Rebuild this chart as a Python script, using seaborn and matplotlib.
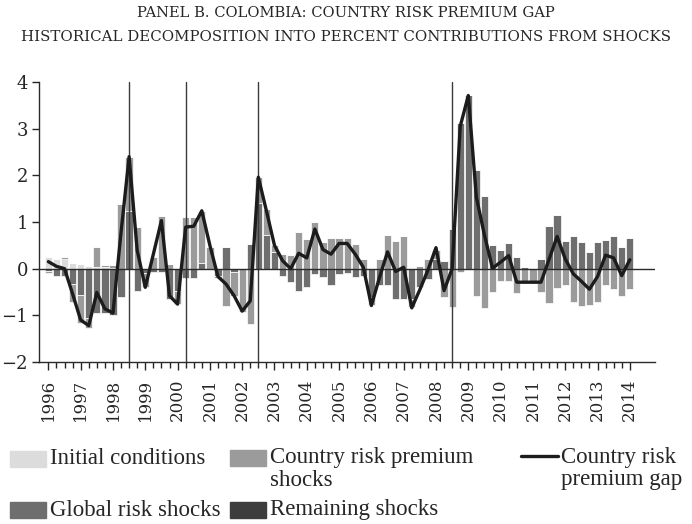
import matplotlib
matplotlib.use("Agg")
import matplotlib.pyplot as plt
import seaborn as sns
import numpy as np
import pandas as pd
from matplotlib.patches import Rectangle
from matplotlib.lines import Line2D

#----------------------------------------------------
# data (quarterly, 1996Q1 .. 2014Q1)
#----------------------------------------------------

first_quarter = "1996Q1"
last_quarter = "2014Q1"

initial_conditions = [
    0.25, 0.21, 0.20, 0.13, 0.09, 0.06, 0.04, 0.03, 0.02, 0.00,
    0.00, 0.00, 0.00, 0.00, 0.00, 0.00, 0.00, 0.00, 0.00, 0.00,
    0.00, 0.00, 0.00, 0.00, 0.00, 0.00, 0.00, 0.00, 0.00, 0.00,
    0.00, 0.00, 0.00, 0.00, 0.00, 0.00, 0.00, 0.00, 0.00, 0.00,
    0.00, 0.00, 0.00, 0.00, 0.00, 0.00, 0.00, 0.00, 0.00, 0.00,
    0.00, 0.00, 0.00, 0.00, 0.00, 0.00, 0.00, 0.00, 0.00, 0.00,
    0.00, 0.00, 0.00, 0.00, 0.00, 0.00, 0.00, 0.00, 0.00, 0.00,
    0.00, 0.00, 0.00,
]

global_risk = [
    -0.05, -0.15, -0.15, -0.33, -0.57, -1.05, -0.94, -0.94, -0.99, -0.61,
    1.24, -0.47, -0.10, -0.08, -0.08, -0.65, -0.47, -0.20, -0.19, 0.13,
    0.00, -0.15, 0.46, -0.08, 0.00, 0.53, 1.40, 0.72, 0.35, -0.15,
    -0.29, -0.47, -0.40, -0.11, -0.17, -0.34, -0.11, -0.09, -0.17, -0.15,
    -0.60, -0.34, -0.34, -0.64, -0.66, -0.65, -0.40, -0.22, 0.20, 0.17,
    0.84, 3.12, 3.72, 2.12, 1.56, 0.51, 0.39, 0.55, 0.26, 0.04,
    0.00, 0.21, 0.92, 1.14, 0.60, 0.71, 0.58, 0.35, 0.58, 0.62,
    0.69, 0.46, 0.66,
]

country_risk = [
    -0.05, 0.00, 0.04, -0.38, -0.60, -0.22, 0.43, 0.05, 0.06, 1.39,
    1.16, 0.90, -0.30, 0.24, 1.12, 0.10, -0.29, 1.11, 1.11, 1.11,
    0.47, -0.04, -0.81, -0.50, -0.92, -1.19, 0.56, 0.55, 0.15, 0.31,
    0.29, 0.79, 0.64, 0.99, 0.58, 0.66, 0.66, 0.66, 0.53, 0.21,
    -0.17, 0.21, 0.72, 0.60, 0.71, -0.18, 0.06, 0.21, 0.21, -0.61,
    -0.83, -0.08, 0.00, -0.59, -0.85, -0.49, -0.26, -0.27, -0.53, -0.29,
    -0.29, -0.49, -0.74, -0.42, -0.36, -0.72, -0.81, -0.77, -0.72, -0.34,
    -0.44, -0.59, -0.44,
]

remaining = [
    0.00, 0.00, 0.00, 0.00, 0.00, 0.00, 0.00, 0.00, 0.00, 0.00,
    0.00, 0.00, 0.00, 0.00, 0.00, 0.00, 0.00, 0.00, 0.00, 0.00,
    0.00, 0.00, 0.00, 0.00, 0.00, 0.00, 0.00, 0.00, 0.00, 0.00,
    0.00, 0.00, 0.00, 0.00, 0.00, 0.00, 0.00, 0.00, 0.00, 0.00,
    0.00, 0.00, 0.00, 0.00, 0.00, 0.00, 0.00, 0.00, 0.00, 0.00,
    0.00, 0.00, 0.00, 0.00, 0.00, 0.00, 0.00, 0.00, 0.00, 0.00,
    0.00, 0.00, 0.00, 0.00, 0.00, 0.00, 0.00, 0.00, 0.00, 0.00,
    0.00, 0.00, 0.00,
]

risk_gap = [
    0.15, 0.05, 0.00, -0.54, -1.10, -1.22, -0.51, -0.86, -0.95, 0.78,
    2.40, 0.39, -0.40, 0.31, 1.03, -0.58, -0.76, 0.89, 0.91, 1.24,
    0.50, -0.17, -0.33, -0.58, -0.91, -0.69, 1.96, 1.24, 0.50, 0.17,
    0.00, 0.33, 0.23, 0.85, 0.41, 0.31, 0.54, 0.54, 0.31, 0.03,
    -0.79, -0.19, 0.36, -0.06, 0.03, -0.84, -0.45, -0.03, 0.45, -0.47,
    0.00, 3.05, 3.71, 1.53, 0.72, 0.01, 0.14, 0.28, -0.29, -0.29,
    -0.29, -0.29, 0.20, 0.69, 0.21, -0.11, -0.27, -0.44, -0.17, 0.29,
    0.23, -0.15, 0.19,
]

# episode markers (decimal years)
episodes = [1998.5, 2000.25, 2002.5, 2008.5]

years = list(range(1996, 2015))

#----------------------------------------------------
# style
#----------------------------------------------------

W, H = 692, 524
C_INIT = "#dcdcdc"
C_CRP = "#9b9b9b"
C_GLOB = "#6e6e6e"
C_REM = "#3d3d3d"
C_LINE = "#1c1c1c"

sns.set_style("ticks")
plt.rcParams["font.family"] = ["DejaVu Serif"]


def fx(px):
    return px / W


def fy(py):
    return 1 - py / H


#----------------------------------------------------
# main
#----------------------------------------------------

def main():
    qs = pd.period_range(first_quarter, last_quarter, freq="Q")
    x = np.array([q.year + (q.quarter - 1) / 4 for q in qs])

    fig = plt.figure(figsize=(W / 100, H / 100), dpi=100)
    ax = fig.add_axes([fx(39), fy(362), fx(655) - fx(39), fy(82) - fy(362)])

    # stacked bars, positives and negatives stacked apart
    pos_base = np.zeros(len(x))
    neg_base = np.zeros(len(x))
    for vals, col in [(initial_conditions, C_INIT), (global_risk, C_GLOB),
                      (country_risk, C_CRP), (remaining, C_REM)]:
        v = np.array(vals)
        base = np.where(v >= 0, pos_base, neg_base)
        ax.bar(x, v, bottom=base, width=0.225, color=col,
               edgecolor="white", linewidth=0.5, zorder=2)
        pos_base += np.clip(v, 0, None)
        neg_base += np.clip(v, None, 0)

    for e in episodes:
        ax.axvline(e, color="#3a3a3a", lw=1.0, zorder=3)
    ax.axhline(0, color="#2a2a2a", lw=1.0, zorder=3)

    sns.lineplot(x=x, y=risk_gap, color=C_LINE, lw=2.4, ax=ax, zorder=4)

    ax.set_xlim(1995.71, 2014.78)
    ax.set_ylim(-2, 4)
    ax.set_yticks(range(-2, 5))
    ax.set_yticklabels([str(v).replace("-", "\u2212") for v in range(-2, 5)],
                       fontsize=13)
    ax.set_xticks(years)
    ax.set_xticklabels([str(y) for y in years], rotation=90, fontsize=12)
    ax.set_xticks(x, minor=True)
    ax.tick_params(axis="x", which="major", length=6, width=1, direction="out", pad=6)
    ax.tick_params(axis="x", which="minor", length=4, width=1, direction="out")
    ax.tick_params(axis="y", length=5, width=1, direction="out", pad=3)
    sns.despine(ax=ax)
    for s in ["left", "bottom"]:
        ax.spines[s].set_linewidth(1.0)
        ax.spines[s].set_color("#2a2a2a")

    # titles
    fig.text(0.5, fy(13), "PANEL B. COLOMBIA: COUNTRY RISK PREMIUM GAP",
             ha="center", va="center", fontsize=10.6)
    fig.text(0.5, fy(37), "HISTORICAL DECOMPOSITION INTO PERCENT CONTRIBUTIONS FROM SHOCKS",
             ha="center", va="center", fontsize=10.8)

    # legend drawn by hand
    lfont = dict(fontsize=16.5, family="Liberation Serif", va="center", ha="left")
    items = [
        (10, 459, C_INIT, "Initial conditions"),
        (230, 458, C_CRP, "Country risk premium\nshocks"),
        (10, 510, C_GLOB, "Global risk shocks"),
        (230, 510, C_REM, "Remaining shocks"),
    ]
    for px, py, col, lab in items:
        fig.add_artist(Rectangle((fx(px), fy(py + 8)), fx(36), 16 / H,
                                 transform=fig.transFigure, color=col))
        fig.text(fx(px + 40), fy(py), lab.split("\n")[0], **lfont)
        if "\n" in lab:
            fig.text(fx(px + 40), fy(py + 22), lab.split("\n")[1], **lfont)
    fig.add_artist(Line2D([fx(521), fx(558)], [fy(456), fy(456)],
                          transform=fig.transFigure, color=C_LINE, lw=2.4))
    fig.text(fx(561), fy(458), "Country risk", **lfont)
    fig.text(fx(561), fy(480), "premium gap", **lfont)

    fig.savefig("out.png", dpi=100)
    return


if __name__ == '__main__':
    main()
